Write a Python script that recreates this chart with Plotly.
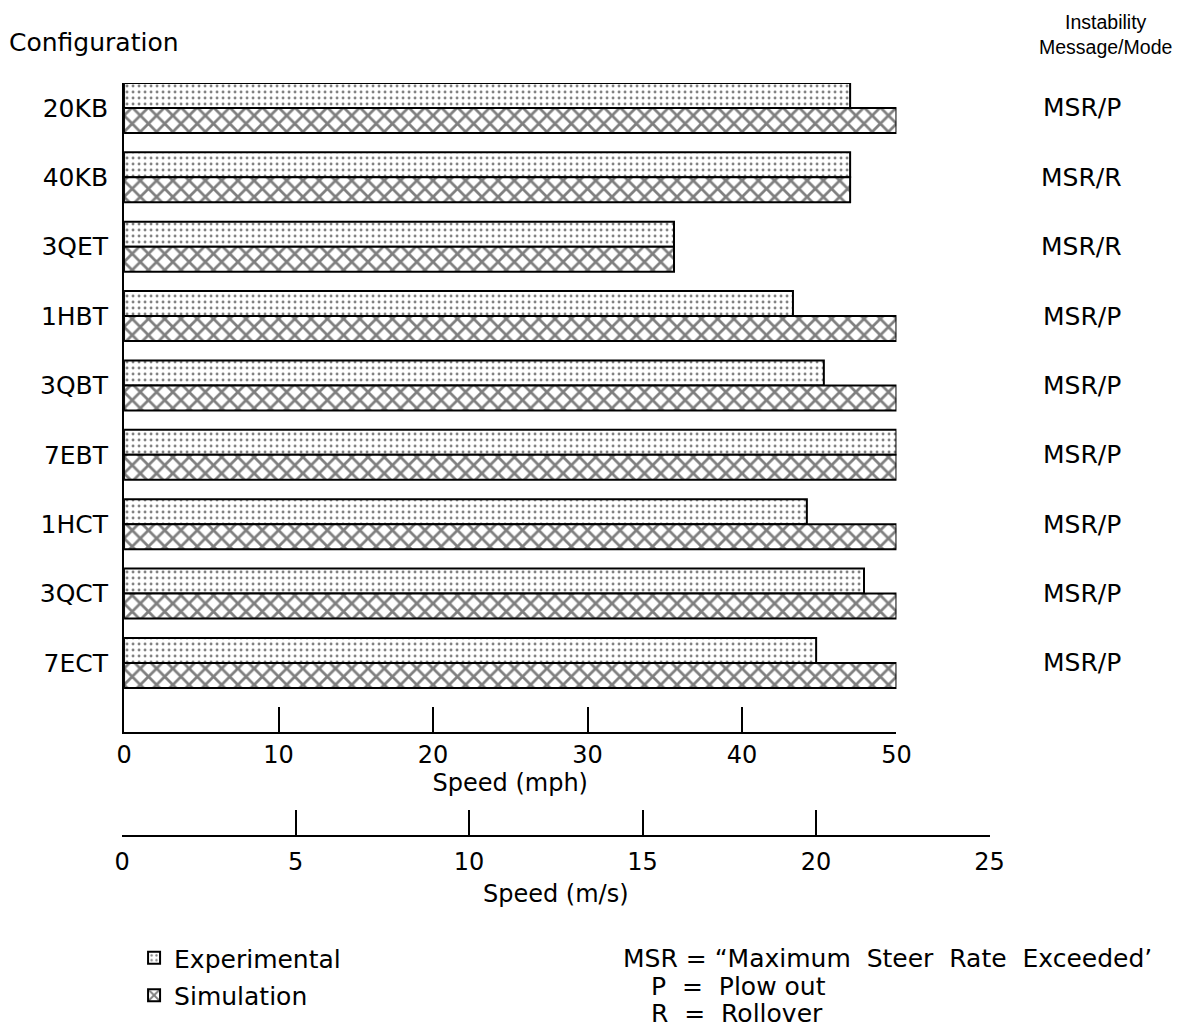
import plotly.graph_objects as go

configs = ["20KB", "40KB", "3QET", "1HBT", "3QBT", "7EBT", "1HCT", "3QCT", "7ECT"]
experimental_mph = [47.0, 47.0, 35.6, 43.3, 45.3, 50.0, 44.2, 47.9, 44.8]
simulation_mph = [50.0, 47.0, 35.6, 50.0, 50.0, 50.0, 50.0, 50.0, 50.0]
modes = ["MSR/P", "MSR/R", "MSR/R", "MSR/P", "MSR/P", "MSR/P", "MSR/P", "MSR/P", "MSR/P"]
mph_ticks = [0, 10, 20, 30, 40, 50]
ms_ticks = [0, 5, 10, 15, 20, 25]
key_lines = ["MSR = \u201cMaximum  Steer  Rate  Exceeded\u2019",
             "P  =  Plow out", "R  =  Rollover"]

FONT = "DejaVu Sans, Liberation Sans, sans-serif"
HFONT = "Liberation Sans, Arial, sans-serif"
W, H = 1180, 1032

def px(x):
    # horizontal page position -> paper fraction (calibrated to the rendered output)
    return ((x - 7) / 0.98) / W

def py(y):
    return 1 - y / H

fig = go.Figure()
fig.add_trace(go.Bar(
    y=configs, x=experimental_mph, orientation="h", name="Experimental",
    legendgroup="e",
    marker=dict(color="white", line=dict(color="black", width=2),
                pattern=dict(shape=".", fgcolor="black", bgcolor="white",
                             size=6, solidity=0.18)),
))
fig.add_trace(go.Bar(
    y=configs, x=simulation_mph, orientation="h", name="Simulation",
    legendgroup="s",
    marker=dict(color="white", line=dict(color="black", width=2),
                pattern=dict(shape="x", fgcolor="black", bgcolor="white",
                             size=11.5, solidity=0.42)),
))
# m/s axis holder (no marks)
fig.add_trace(go.Scatter(x=[], y=[], xaxis="x2", yaxis="y2", showlegend=False))

for c, m in zip(configs, modes):
    fig.add_annotation(x=px(1080), xref="paper", y=c, yref="y", text=m,
                       xanchor="center", yanchor="middle",
                       showarrow=False, font=dict(size=25, family=FONT, color="black"))

fig.add_annotation(x=px(6), y=py(43), xref="paper", yref="paper", text="Configuration",
                   showarrow=False, xanchor="left", yanchor="middle",
                   font=dict(size=25, family=FONT, color="black"))
fig.add_annotation(x=px(1104), y=py(34), xref="paper", yref="paper",
                   text="Instability<br>Message/Mode", align="center",
                   showarrow=False, xanchor="center", yanchor="middle",
                   font=dict(size=19.5, family=HFONT, color="black"))

key_x = [620, 648, 648]
key_y = [958, 986, 1013]
for t, kx, ky in zip(key_lines, key_x, key_y):
    fig.add_annotation(x=px(kx), y=py(ky), xref="paper", yref="paper", text=t,
                       showarrow=False, xanchor="left", yanchor="middle",
                       font=dict(size=25, family=FONT, color="black"))

n = len(configs)
fig.update_layout(
    width=W, height=H, margin=dict(l=0, r=0, t=0, b=0),
    paper_bgcolor="white", plot_bgcolor="rgba(0,0,0,0)",
    barmode="group", bargap=0.28, bargroupgap=0,
    font=dict(family=FONT, size=24, color="black"),
    showlegend=True,
    legend=dict(x=px(133), y=py(935), xanchor="left", yanchor="top",
                font=dict(size=25, family=FONT), tracegroupgap=2,
                bgcolor="rgba(0,0,0,0)"),
    xaxis=dict(domain=[px(123), px(895)], range=[0, 50], tickvals=mph_ticks,
               ticks="inside", ticklen=25, tickwidth=2, tickcolor="black",
               showline=True, linewidth=2, linecolor="black", showgrid=False, zeroline=False,
               anchor="y", title=dict(text="Speed (mph)", standoff=6, font=dict(size=24)),
               tickfont=dict(size=24)),
    yaxis=dict(domain=[py(732), py(83)], type="category",
               range=[n - 1 + 0.995, -0.36], ticks="", showline=True, linewidth=2,
               linecolor="black", showgrid=False, zeroline=False,
               ticklabelstandoff=9, tickfont=dict(size=25)),
    xaxis2=dict(domain=[px(121), px(988)], range=[0, 25], tickvals=ms_ticks,
                anchor="y2", ticks="inside", ticklen=25, tickwidth=2, tickcolor="black",
                showline=True, linewidth=2, linecolor="black", showgrid=False, zeroline=False,
                ticklabelstandoff=4,
                title=dict(text="Speed (m/s)", standoff=10, font=dict(size=24)),
                tickfont=dict(size=24)),
    yaxis2=dict(domain=[py(835), py(800)], visible=False, range=[0, 1]),
)

fig.write_html("out.html")
